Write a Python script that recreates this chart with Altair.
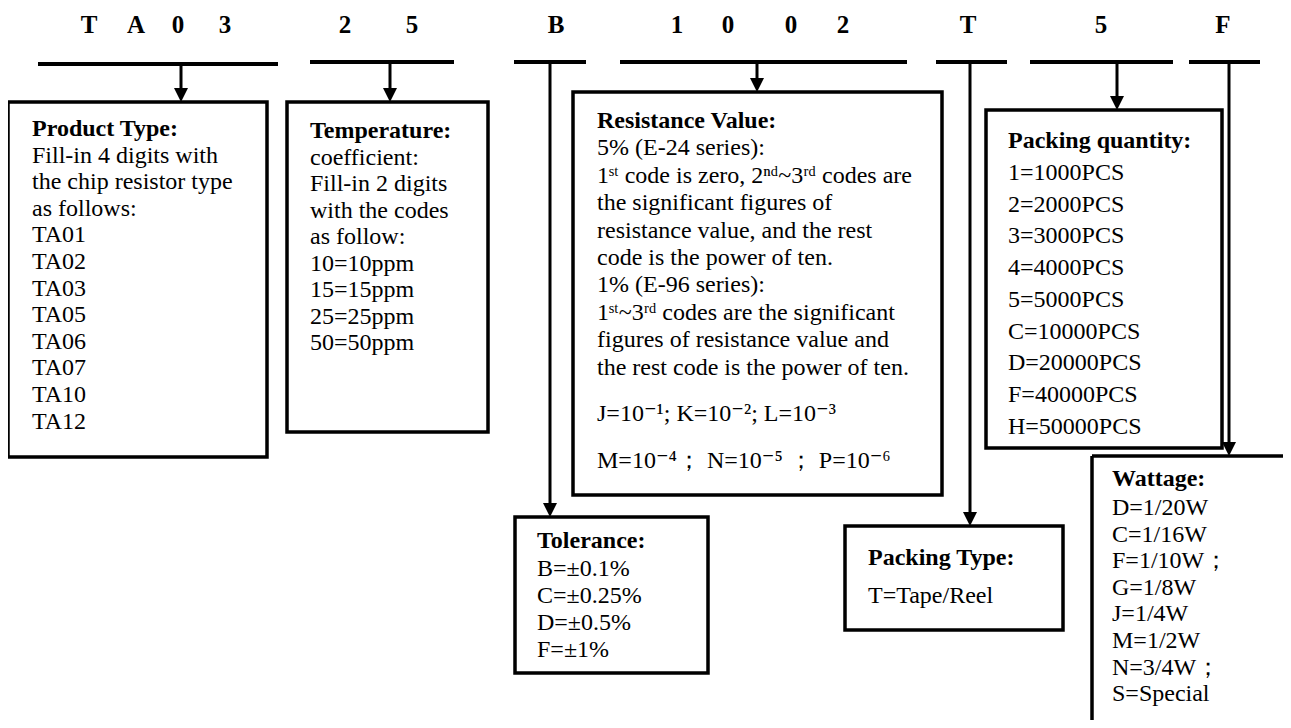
import altair as alt
import pandas as pd

# ---------------- content ----------------
code_letters = ["T", "A", "0", "3", "2", "5", "B", "1", "0", "0", "2", "T", "5", "F"]

pt_title = "Product Type:"
pt_lines = ["Fill-in 4 digits with", "the chip resistor type", "as follows:",
            "TA01", "TA02", "TA03", "TA05", "TA06", "TA07", "TA10", "TA12"]

tc_title = "Temperature:"
tc_lines = ["coefficient:", "Fill-in 2 digits", "with the codes", "as follow:",
            "10=10ppm", "15=15ppm", "25=25ppm", "50=50ppm"]

rv_title = "Resistance Value:"
rv_lines = ["5% (E-24 series):",
            "1\u02e2\u1d57 code is zero, 2\u207f\u1d48~3\u02b3\u1d48 codes are",
            "the significant figures of",
            "resistance value, and the rest",
            "code is the power of ten.",
            "1% (E-96 series):",
            "1\u02e2\u1d57~3\u02b3\u1d48 codes are the significant",
            "figures of resistance value and",
            "the rest code is the power of ten."]
rv_power_lines = ["J=10\u207b\u00b9; K=10\u207b\u00b2; L=10\u207b\u00b3",
                  "M=10\u207b\u2074\uff1b N=10\u207b\u2075 \uff1b P=10\u207b\u2076"]

tol_title = "Tolerance:"
tol_lines = ["B=\u00b10.1%", "C=\u00b10.25%", "D=\u00b10.5%", "F=\u00b11%"]

pq_title = "Packing quantity:"
pq_lines = ["1=1000PCS", "2=2000PCS", "3=3000PCS", "4=4000PCS", "5=5000PCS",
            "C=10000PCS", "D=20000PCS", "F=40000PCS", "H=50000PCS"]

pk_title = "Packing Type:"
pk_lines = ["T=Tape/Reel"]

w_title = "Wattage:"
w_lines = ["D=1/20W", "C=1/16W", "F=1/10W\uff1b", "G=1/8W", "J=1/4W",
           "M=1/2W", "N=3/4W\uff1b", "S=Special"]

# ---------------- layout (reference pixel coordinates) ----------------
letter_x = [89, 136, 178, 225, 345, 412, 556, 677, 728, 791, 843, 968, 1101, 1223]
letter_base = 33

# text blocks: title, lines, x, title baseline, first line baseline, step
blocks = [
    (pt_title, pt_lines, 32, 136, 162.6, 26.6),
    (tc_title, tc_lines, 310, 138, 164.5, 26.5),
    (rv_title, rv_lines, 597, 128, 155.4, 27.4),
    (tol_title, tol_lines, 537, 548, 575.5, 27.0),
    (pq_title, pq_lines, 1008, 148, 180, 31.7),
    (pk_title, pk_lines, 868, 565, 603, 30),
    (w_title, w_lines, 1112, 486, 515, 26.6),
]
rv_power_pos = [(597, 421), (597, 468)]

# horizontal code bars
bars = [(38, 278, 64), (310, 454, 62), (514, 586, 62), (620, 907, 62),
        (936, 1007, 62), (1030, 1173, 62), (1189, 1260, 62)]
# vertical connectors (x, y top, y bottom = arrow tip)
connectors = [(181, 64, 102), (390, 62, 102), (550, 62, 517), (757, 62, 92),
              (970, 62, 526), (1117, 62, 110), (1229, 62, 456)]
# boxes (x1, x2, y1, y2)
boxes = [(8, 267, 102, 457), (287, 488, 102, 432), (573, 942, 92, 495),
         (515, 708, 517, 673), (986, 1222, 110, 448), (845, 1063, 526, 630)]
# open wattage box edges
open_edges = [(1092, 1300, 456, 456), (1092, 1092, 456, 740)]

FONT = "'Liberation Serif', 'Times New Roman', 'DejaVu Serif', serif"

# ---------------- data frames ----------------
letters_df = pd.DataFrame({"x": letter_x, "y": [letter_base] * len(letter_x), "t": code_letters})

title_rows, body_rows = [], []
for title, lines, x, ty, ly, step in blocks:
    title_rows.append({"x": x, "y": ty, "t": title})
    for i, s in enumerate(lines):
        body_rows.append({"x": x, "y": ly + i * step, "t": s})
for (x, y), s in zip(rv_power_pos, rv_power_lines):
    body_rows.append({"x": x, "y": y, "t": s})
titles_df = pd.DataFrame(title_rows)
body_df = pd.DataFrame(body_rows)

bars_df = pd.DataFrame([{"x": a, "x2": b, "y": y, "y2": y} for a, b, y in bars])
conn_df = pd.DataFrame([{"x": x, "x2": x, "y": a, "y2": b - 8} for x, a, b in connectors])
tips_df = pd.DataFrame([{"x": x, "y": b} for x, a, b in connectors])
boxes_df = pd.DataFrame([{"x": a, "x2": b, "y": c, "y2": d} for a, b, c, d in boxes])
edges_df = pd.DataFrame([{"x": a, "x2": b, "y": c, "y2": d} for a, b, c, d in open_edges])

xs = alt.Scale(domain=[8, 1283], nice=False, zero=False)
ys = alt.Scale(domain=[8, 720], reverse=True, nice=False, zero=False)
X = alt.X("x:Q", scale=xs, axis=None)
Y = alt.Y("y:Q", scale=ys, axis=None)

letters = alt.Chart(letters_df).mark_text(
    font=FONT, fontSize=25, fontWeight="bold", align="center", baseline="alphabetic", color="black"
).encode(x=X, y=Y, text="t:N")

titles = alt.Chart(titles_df).mark_text(
    font=FONT, fontSize=24, fontWeight="bold", align="left", baseline="alphabetic", color="black"
).encode(x=X, y=Y, text="t:N")

body = alt.Chart(body_df).mark_text(
    font=FONT, fontSize=24, align="left", baseline="alphabetic", color="black"
).encode(x=X, y=Y, text="t:N")

bar_layer = alt.Chart(bars_df).mark_rule(color="black", strokeWidth=4).encode(
    x=X, x2="x2:Q", y=Y, y2="y2:Q")
conn_layer = alt.Chart(conn_df).mark_rule(color="black", strokeWidth=3).encode(
    x=X, x2="x2:Q", y=Y, y2="y2:Q")
edge_layer = alt.Chart(edges_df).mark_rule(color="black", strokeWidth=3.5, clip=True).encode(
    x=X, x2="x2:Q", y=Y, y2="y2:Q")
box_layer = alt.Chart(boxes_df).mark_rect(
    fillOpacity=0, stroke="black", strokeWidth=3.5).encode(x=X, x2="x2:Q", y=Y, y2="y2:Q")
tips = alt.Chart(tips_df).mark_point(
    shape="M -1 -2 L 1 -2 L 0 0 Z", size=196, filled=True, color="black", opacity=1, strokeWidth=0
).encode(x=X, y=Y)

chart = alt.layer(box_layer, edge_layer, bar_layer, conn_layer, tips, letters, titles, body).properties(
    width=1275, height=712, autosize=alt.AutoSizeParams(type="none"), padding=0, background="white"
).configure_view(stroke=None, strokeWidth=0)

chart.save("out.html", embed_options={"renderer": "svg", "actions": False})
